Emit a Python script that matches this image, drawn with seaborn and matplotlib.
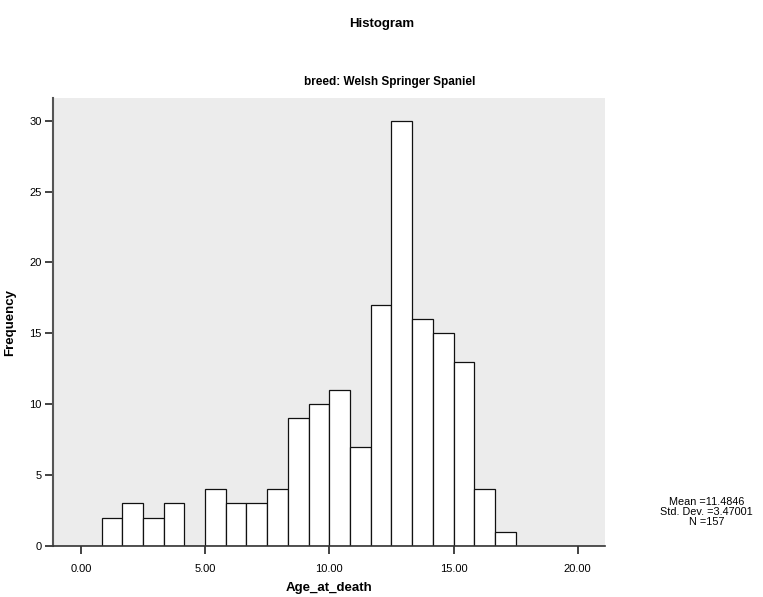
"""Histogramme de l'age au deces - Welsh Springer Spaniel."""

import numpy as np
import pandas as pd
import matplotlib
matplotlib.use("Agg")
import matplotlib.pyplot as plt
import seaborn as sns

# --- Donnees ---
bin_width = 5 / 6
bin_start = 0.0
counts = [0, 2, 3, 2, 3, 0, 4, 3, 3, 4, 9, 10, 11, 7, 17, 30, 16, 15, 13, 4, 1]
x_ticks = [0, 5, 10, 15, 20]
x_ticklabels = ["0.00", "5.00", "10.00", "15.00", "20.00"]
y_ticks = [0, 5, 10, 15, 20, 25, 30]
stats_text = "Mean =11.4846\nStd. Dev. =3.47001\nN =157"

edges = bin_start + bin_width * np.arange(len(counts) + 1)
df = pd.DataFrame({"age": edges[:-1] + bin_width / 2, "n": counts})

sns.set_style("white")
plt.rcParams["font.family"] = ["Liberation Sans", "DejaVu Sans"]
plt.rcParams["text.color"] = "black"
plt.rcParams["axes.labelcolor"] = "black"
plt.rcParams["xtick.color"] = "black"
plt.rcParams["ytick.color"] = "black"

fig = plt.figure(figsize=(7.63, 5.97), dpi=100)
ax = fig.add_axes([0.0695, 0.0854, 0.7235, 0.7504])
ax.set_facecolor("#ececec")

sns.histplot(
    data=df, x="age", weights="n", ax=ax,
    binwidth=bin_width, binrange=(edges[0], edges[-1]),
    color="white", edgecolor="#111111", linewidth=0.9, alpha=1.0,
)

ax.set_xlim(-1.12, 21.1)
ax.set_ylim(0, 31.6)
ax.set_xticks(x_ticks)
ax.set_xticklabels(x_ticklabels)
ax.set_yticks(y_ticks)
ax.tick_params(axis="both", direction="out", length=6, width=1.2,
               color="#222222", labelsize=8, pad=2,
               bottom=True, left=True)
ax.tick_params(axis="x", pad=7)
for side in ["top", "right"]:
    ax.spines[side].set_visible(False)
ax.spines["left"].set_color("#555555")
ax.spines["left"].set_linewidth(1.5)
ax.spines["bottom"].set_color("#333333")
ax.spines["bottom"].set_linewidth(1.2)

ax.set_xlabel("Age_at_death", fontsize=9.5, fontweight="bold", labelpad=6)
ax.set_ylabel("Frequency", fontsize=9.5, fontweight="bold", labelpad=10)

fig.text(0.5, 0.97, "Histogram", ha="center", va="top",
         fontsize=9.5, fontweight="bold")
fig.text(0.511, 0.862, "breed: Welsh Springer Spaniel", ha="center",
         va="center", fontsize=8.5, fontweight="bold")
fig.text(0.926, 0.142, stats_text, ha="center", va="center",
         fontsize=7.8, linespacing=1.0)

fig.savefig("out.png", dpi=100)
plt.close(fig)
